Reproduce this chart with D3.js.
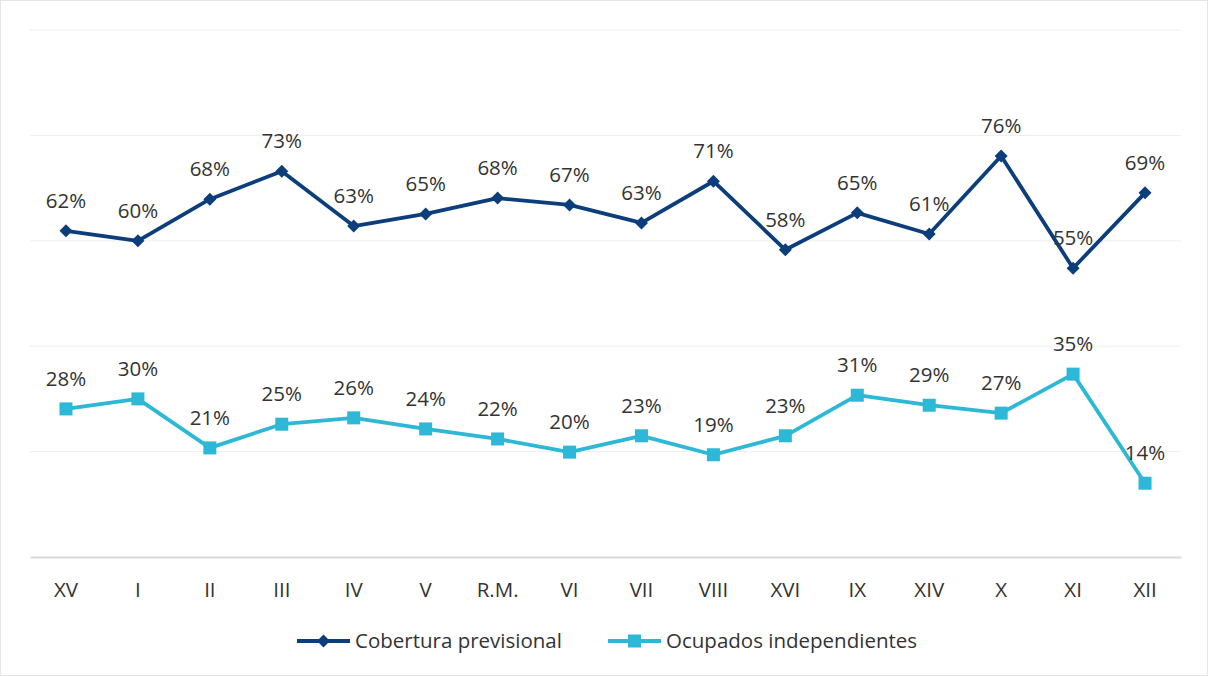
<!DOCTYPE html>
<html>
<head>
<meta charset="utf-8">
<script src="https://cdn.jsdelivr.net/npm/d3@7"></script>
<style>
  body { margin: 0; background: #fff; }
  text { font-family: "Open Sans", "Noto Sans", sans-serif; fill: #333; }
</style>
</head>
<body>
<div id="chart"></div>
<script>
// regiones, en el orden del grafico
var regiones = ["XV", "I", "II", "III", "IV", "V", "R.M.", "VI", "VII", "VIII", "XVI", "IX", "XIV", "X", "XI", "XII"]
var cobertura = [61.9, 60.0, 67.9, 73.2, 62.8, 65.1, 68.1, 66.8, 63.4, 71.3, 58.3, 65.3, 61.3, 76.1, 54.8, 69.1]
var independientes = [28.1, 30.0, 20.7, 25.2, 26.4, 24.3, 22.4, 19.9, 23.0, 19.4, 23.0, 30.7, 28.8, 27.3, 34.7, 14.0]
var yTicks = [0, 20, 40, 60, 80, 100]
var serieNames = ["Cobertura previsional", "Ocupados independientes"]

var width = 1208, height = 676
var margin = {top: 30, right: 27, bottom: 119, left: 30}
var w = width - margin.left - margin.right
var h = height - margin.top - margin.bottom
var fontSize = "20.5px"

var svg = d3.select("#chart").append("svg")
    .attr("width", width)
    .attr("height", height)

svg.append("rect")
    .attr("x", 0.5).attr("y", 0.5)
    .attr("width", width - 1).attr("height", height - 1)
    .attr("fill", "#fff")
    .attr("stroke", "#e6e6e6")

var g = svg.append("g")
    .attr("transform", "translate(" + margin.left + "," + margin.top + ")")

var x = d3.scaleBand().domain(regiones).range([0, w])
var y = d3.scaleLinear().domain([0, 100]).range([h, 0])

// grid
g.selectAll(".grid")
    .data(yTicks.slice(1))
    .enter().append("line")
    .attr("x1", 0).attr("x2", w)
    .attr("y1", function (d) { return y(d) })
    .attr("y2", function (d) { return y(d) })
    .attr("stroke", "#efefef")
    .attr("stroke-width", 1)

// eje x
var xAxis = g.append("g")
    .attr("transform", "translate(0," + h + ")")
    .call(d3.axisBottom(x).tickSize(0).tickPadding(25))
xAxis.select(".domain").attr("stroke", "#d9d9d9").attr("stroke-width", 2)
xAxis.selectAll("text")
    .style("font-family", "'Open Sans', 'Noto Sans', sans-serif")
    .style("font-size", fontSize)
    .attr("fill", "#333")

var series = [
    {name: serieNames[0], values: cobertura, color: "#0c3e7c", marker: "diamond"},
    {name: serieNames[1], values: independientes, color: "#2cb8d6", marker: "square"}
]

var line = d3.line()
    .x(function (d, i) { return x(regiones[i]) + x.bandwidth() / 2 })
    .y(function (d) { return y(d) })

function drawMarker(sel, s) {
    if (s.marker == "diamond") {
        sel.append("path")
            .attr("d", "M0,-6.5L6.5,0L0,6.5L-6.5,0Z")
            .attr("fill", s.color)
    } else {
        sel.append("rect")
            .attr("x", -6.5).attr("y", -6.5)
            .attr("width", 13).attr("height", 13)
            .attr("fill", s.color)
    }
}

series.forEach(function (s) {
    g.append("path")
        .datum(s.values)
        .attr("fill", "none")
        .attr("stroke", s.color)
        .attr("stroke-width", 3.8)
        .attr("stroke-linejoin", "round")
        .attr("d", line)

    g.selectAll(null)
        .data(s.values)
        .enter().append("g")
        .attr("transform", function (d, i) {
            return "translate(" + (x(regiones[i]) + x.bandwidth() / 2) + "," + y(d) + ")"
        })
        .each(function () { drawMarker(d3.select(this), s) })

    g.selectAll(null)
        .data(s.values)
        .enter().append("text")
        .attr("x", function (d, i) { return x(regiones[i]) + x.bandwidth() / 2 })
        .attr("y", function (d) { return y(d) - 23 })
        .attr("text-anchor", "middle")
        .style("font-size", fontSize)
        .text(function (d) { return Math.round(d) + "%" })
})

// leyenda
var legendPos = [297, 608]
series.forEach(function (s, i) {
    var lg = svg.append("g")
        .attr("transform", "translate(" + legendPos[i] + ",641)")
    lg.append("line")
        .attr("x1", 0).attr("x2", 53)
        .attr("stroke", s.color)
        .attr("stroke-width", 3.8)
    var m = lg.append("g").attr("transform", "translate(26.5,0)")
    drawMarker(m, s)
    lg.append("text")
        .attr("x", 58).attr("y", 7)
        .style("font-size", fontSize)
        .text(s.name)
})
</script>
</body>
</html>
